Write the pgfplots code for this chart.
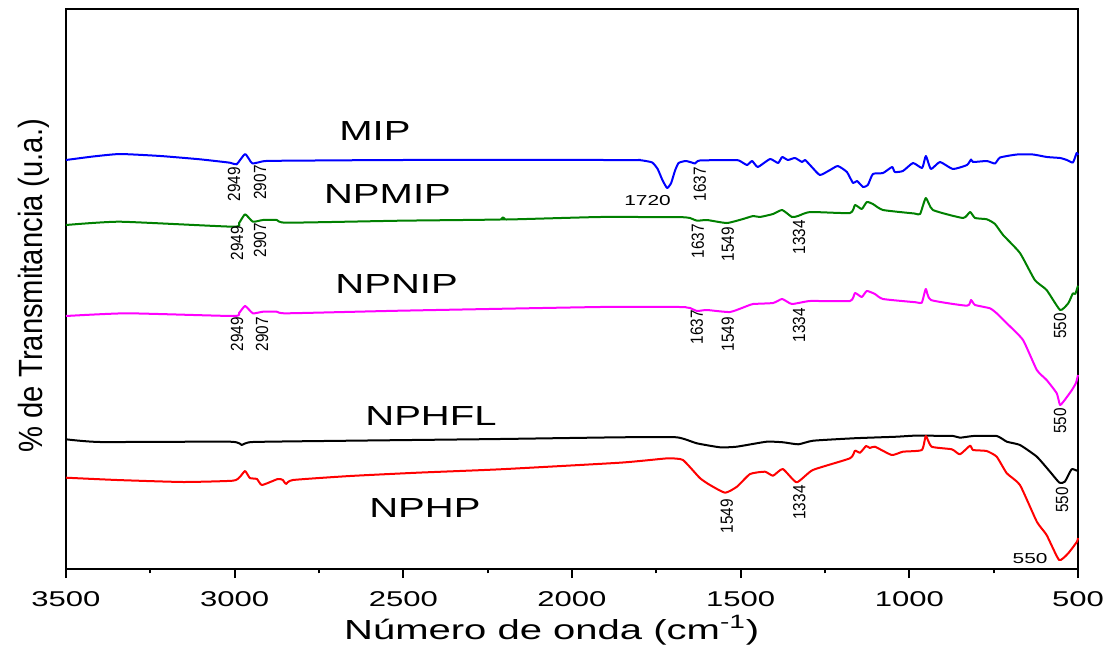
\documentclass[border=0pt]{standalone}
\usepackage{fontspec}
\setmainfont{Liberation Sans}[FakeStretch=1.45]
\newfontfamily\rfont{Liberation Sans}[FakeStretch=0.87]
\usepackage{pgfplots}
\pgfplotsset{compat=1.18}
\definecolor{cblue}{RGB}{0,0,255}
\definecolor{cgreen}{RGB}{0,128,0}
\definecolor{cmag}{RGB}{255,0,255}
\definecolor{cred}{RGB}{255,0,0}
\newcommand\namefont{\fontsize{13.8bp}{16bp}\selectfont}
\newcommand\annh{\fontsize{7.2bp}{8bp}\selectfont}
\newcommand\annr{\rfont\fontsize{8.8bp}{9bp}\selectfont}
\begin{document}
\begin{tikzpicture}
\begin{axis}[
  name=ax, at={(0,0)}, anchor=south west,
  scale only axis, width=506bp, height=280bp,
  x dir=reverse, xmin=500, xmax=3500, ymin=0, ymax=560,
  xtick={500,1000,...,3500}, minor x tick num=1,
  ytick=\empty, xtick pos=left,
  tick align=outside,
  major tick length=4.6bp, minor tick length=2.2bp,
  every tick/.style={black, line width=1bp},
  axis line style={line width=1.2bp},
  xticklabel style={font=\fontsize{10.7bp}{12bp}\selectfont, inner sep=0pt, anchor=north},
  xticklabel shift=6.4bp,
  /pgf/number format/assume math mode=true,
  /pgf/number format/1000 sep={},
  clip=false,
  every axis plot/.append style={mark=none, line width=1bp, line join=round, smooth, tension=0.3},
]
\addplot[cblue] table {
3500 409
3420 412.5
3340 415
3220 413
3103 409.7
3014 406.3
2994 404.7
2969 415
2948 405.7
2916 407.7
2880 408.2
2510 409
1830 409
1805 409
1790 408.5
1762 406.5
1746 400
1732 389
1718 381
1706 386
1695 398
1684 406
1663 408
1645 406.5
1635 405.5
1621 408.5
1515 409
1502 408
1481 404
1466 408
1449 402
1413 410
1389 406
1377 412
1360 409
1339 411
1318 407
1309 409
1289 402
1265 394
1235 399
1212 403
1185 397
1167 386
1155 388
1137 382
1123 384
1108 395
1078 396
1051 402
1043 397
1019 398
989 406
962 401
951 413
936 400
909 407
871 400
829 404
817 409.5
811 407
770 408
746 405.5
731 411.5
681 414.5
633 414.5
592 412
553 411
533 409
515 406.5
504 416
500 414
};
\addplot[cgreen] table {
3500 344
3340 347.3
3005 342.3
2987 346
2969 354.7
2946 347.3
2916 349
2875 349
2845 346.3
2510 348.3
2213 349.5
2205 351.5
2195 349.5
1917 352
1680 351.8
1660 351.5
1650 351
1629 348.3
1600 349
1541 346
1493 350
1463 353
1443 352
1404 355
1377 359
1348 352
1330 353
1294 357
1176 356
1161 364
1141 360
1126 367
1108 365
1078 359
985 355.5
968 355
951 371
930 359
841 351
820 357
805 351
770 349.7
746 345
722 334
672 316
628 289
593 279
553 259
529 265.7
515 275.7
508 275
500 283.3
};
\addplot[cmag] table {
3500 253
3319 255.7
3005 253
2987 256
2969 263
2946 255.7
2916 257.3
2875 257.3
2845 255.7
2510 258.3
1917 262
1680 262
1660 261.5
1650 261
1629 258
1600 259
1532 257
1481 263
1463 265
1404 266
1377 270
1348 265
1294 268
1176 268
1161 276
1141 272
1126 278
1102 275
1078 270
980 266.7
963 266.3
951 280
936 269
829 263.3
817 269
805 264
761 260.7
741 255.7
711 245.7
663 229
622 199
593 189
563 175.7
553 164
535 171
518 179
506 186
500 194
};
\addplot[black] table {
3500 129.7
3399 127
3014 127.3
2979 124
2946 127
2658 128.3
2213 130
1858 131.7
1690 131.7
1630 125.7
1561 121.7
1512 122.3
1423 127.3
1374 126.7
1329 124.7
1285 128.3
1166 130.7
1087 131.7
1037 132.3
988 133.3
949 133.3
870 133
850 131.3
810 133
741 133
711 127.3
672 124
622 112.3
583 97.3
555 86.3
539 87.3
519 99.7
503 98.3
500 99
};
\addplot[cred] table {
3500 91.3
3349 89
3153 87
3005 88.3
2984 92.3
2969 98
2955 91
2934 90
2919 84
2872 90
2857 89
2848 85
2827 89
2658 93
2459 96.3
2213 99.7
1858 106.3
1730 110.3
1710 110.7
1671 109
1621 91
1591 84
1546 76.3
1511 82.3
1472 95
1428 97.3
1404 93.3
1375 100
1334 86.7
1286 99
1176 110.7
1161 118.3
1146 116.3
1128 123
1117 121
1102 122.3
1052 114
1019 117.3
963 119
951 133
934 122.3
874 119.7
850 114.7
820 123.3
811 119
771 118
741 112.3
711 95.7
672 84
622 47.3
593 34
556 9
529 15.7
503 27.3
500 31
};
% curve names
\node[anchor=base, font=\namefont] at (axis cs:2584,429) {MIP};
\node[anchor=base, font=\namefont] at (axis cs:2547,366) {NPMIP};
\node[anchor=base, font=\namefont] at (axis cs:2520,276) {NPNIP};
\node[anchor=base, font=\namefont] at (axis cs:2418,144) {NPHFL};
\node[anchor=base, font=\namefont] at (axis cs:2436,52) {NPHP};
% annotations
\begin{scope}[every node/.style={rotate=90, font=\annr, inner sep=0pt}]
\node at (axis cs:3002,385) {2949};
\node at (axis cs:2925,386.5) {2907};
\node at (axis cs:1621,385) {1637};
\node at (axis cs:2993,326) {2949};
\node at (axis cs:2925,329) {2907};
\node at (axis cs:1627,328) {1637};
\node at (axis cs:1538,325) {1549};
\node at (axis cs:1327,332) {1334};
\node at (axis cs:553,243) {550};
\node at (axis cs:2993,235) {2949};
\node at (axis cs:2919,235) {2907};
\node at (axis cs:1630,242) {1637};
\node at (axis cs:1538,235) {1549};
\node at (axis cs:1327,244) {1334};
\node at (axis cs:553,148) {550};
\node at (axis cs:547,69) {550};
\node at (axis cs:1541,53) {1549};
\node at (axis cs:1326,66.5) {1334};
\end{scope}
\node[font=\annh, inner sep=0pt] at (axis cs:1776,368) {1720};
\node[font=\annh, inner sep=0pt] at (axis cs:642,10.5) {550};
% axis labels
\node[rotate=90, anchor=south, inner sep=0pt, font=\rfont\fontsize{16.8bp}{18bp}\selectfont]
  at ([xshift=-8bp]axis description cs:0,0.506) {\% de Transmitancia (u.a.)};
\node[anchor=base, inner sep=0pt, font=\namefont]
  at ([yshift=-35bp]axis description cs:0.48,0) {Número de onda (cm\textsuperscript{-1})};
\end{axis}
\pgfresetboundingbox
\path (-33bp,-39bp) rectangle (523bp,284.5bp);
\end{tikzpicture}
\end{document}
